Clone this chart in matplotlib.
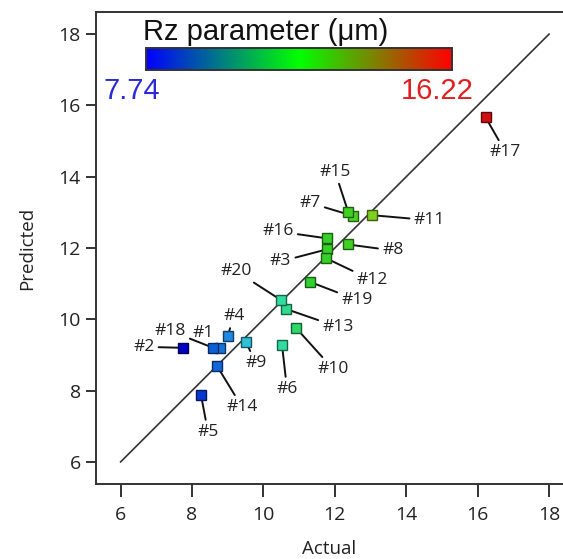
import matplotlib
matplotlib.use("Agg")
import matplotlib.pyplot as plt
import numpy as np
from matplotlib.colors import LinearSegmentedColormap, Normalize
from matplotlib.cm import ScalarMappable

# ---- data ----
run_labels = ["#1", "#2", "#3", "#4", "#5", "#6", "#7", "#8", "#9", "#10",
              "#11", "#12", "#13", "#14", "#15", "#16", "#17", "#18", "#19", "#20"]
actual = [8.78, 7.74, 11.77, 9.00, 8.25, 10.52, 12.51, 12.36, 9.51, 10.91,
          13.05, 11.76, 10.63, 8.70, 12.37, 11.78, 16.22, 8.59, 11.30, 10.49]
predicted = [9.20, 9.20, 11.96, 9.53, 7.88, 9.28, 12.90, 12.10, 9.36, 9.76,
             12.92, 11.71, 10.29, 8.69, 13.02, 12.27, 15.67, 9.20, 11.05, 10.54]
rz_min, rz_max = 7.74, 16.22
x_ticks = [6, 8, 10, 12, 14, 16, 18]
y_ticks = [6, 8, 10, 12, 14, 16, 18]
fit_line = [6, 18]

# label offsets (pixels) - layout only
label_offsets = {
    "#1": (-17, 15), "#2": (-39, 1), "#3": (-46, -12), "#4": (6, 20),
    "#5": (7, -37), "#6": (5, -44), "#7": (-43, 13), "#8": (45, -6),
    "#9": (10, -21), "#10": (37, -41), "#11": (57, -5), "#12": (46, -22),
    "#13": (52, -18), "#14": (25, -41), "#15": (-13, 40), "#16": (-49, 7),
    "#17": (20, -35), "#18": (-43, 17), "#19": (47, -18), "#20": (-45, 29),
}

# colour bar map and marker map (style)
cmap = LinearSegmentedColormap.from_list("bgr", ["#0000ff", "#00ff00", "#ff0000"])
norm = Normalize(rz_min, rz_max)
marker_stops = [(7.74, "#0000c0"), (8.6, "#1060d8"), (9.0, "#2088e0"),
                (9.5, "#30c0d8"), (10.5, "#30dca0"), (11.3, "#30d030"),
                (12.4, "#40d020"), (13.05, "#80d020"), (16.22, "#d01010")]
marker_cmap = LinearSegmentedColormap.from_list(
    "mk", [(norm(v), c) for v, c in marker_stops])

fig = plt.figure(figsize=(5.63, 5.59), dpi=100)
ax = fig.add_axes([96 / 563, 1 - 484 / 559, 1 - 96 / 563, (484 - 12) / 559])
ax.set_xlim(5.31, 18.39)
ax.set_ylim(5.38, 18.62)

ax.plot(fit_line, fit_line, color="#333333", lw=1.2, zorder=1)

for lab, xa, yp in zip(run_labels, actual, predicted):
    c = marker_cmap(norm(xa))
    dx, dy = label_offsets[lab]
    ax.annotate(lab, xy=(xa, yp), xytext=(dx, dy), textcoords="offset pixels",
                ha="center", va="center", fontsize=12.5, family="Open Sans",
                color="#222222",
                arrowprops=dict(arrowstyle="-", color="#111111", lw=1.4,
                                shrinkA=1, shrinkB=0), zorder=2)
    ax.plot(xa, yp, marker="s", ms=7.5, mfc=c,
            mec=tuple(v * 0.45 for v in c[:3]), mew=1.0, zorder=3)

ax.spines["right"].set_visible(False)
for s in ["left", "bottom", "top"]:
    ax.spines[s].set_linewidth(1.4)
    ax.spines[s].set_color("#333333")
ax.set_xticks(x_ticks)
ax.set_yticks(y_ticks)
ax.tick_params(axis="x", direction="out", length=9, width=1.4, color="#333333", pad=7)
ax.tick_params(axis="y", direction="out", length=7, width=1.4, color="#333333", pad=4)
for t in ax.get_xticklabels() + ax.get_yticklabels():
    t.set_fontfamily("Open Sans")
    t.set_fontsize(14)
    t.set_color("#222222")
ax.set_xlabel("Actual", fontfamily="Open Sans", fontsize=13.5, labelpad=11, color="#222222")
ax.set_ylabel("Predicted", fontfamily="Open Sans", fontsize=13.5, labelpad=16, color="#222222")

# colorbar
cax = fig.add_axes([146 / 563, 1 - 70 / 559, 306 / 563, 22 / 559])
cb = fig.colorbar(ScalarMappable(norm=norm, cmap=cmap), cax=cax, orientation="horizontal")
cb.set_ticks([])
cb.outline.set_linewidth(1.4)
cb.outline.set_edgecolor("#333333")
fig.text(266 / 563, 1 - 32 / 559, "Rz parameter (μm)", ha="center", va="center",
         family="Liberation Sans", fontsize=21, color="#111111")
fig.text(132 / 563, 1 - 91 / 559, f"{rz_min:.2f}", ha="center", va="center",
         family="Liberation Sans", fontsize=21, color="#2a2ad8")
fig.text(437 / 563, 1 - 91 / 559, f"{rz_max:.2f}", ha="center", va="center",
         family="Liberation Sans", fontsize=21, color="#e02020")

fig.savefig("out.png", dpi=100)
